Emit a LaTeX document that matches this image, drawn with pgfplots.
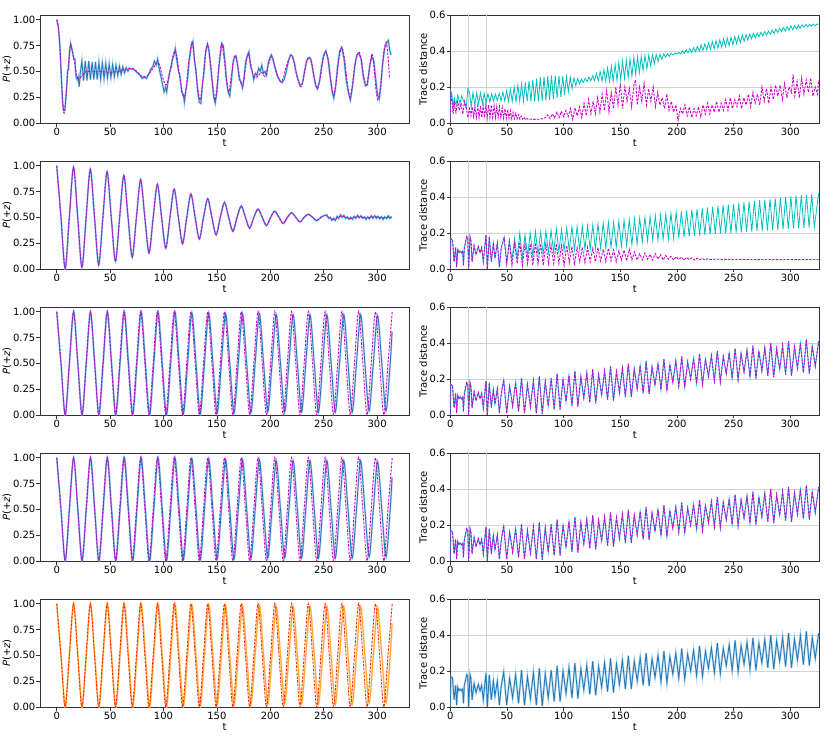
\documentclass[border=0pt]{standalone}
\usepackage{fontspec}
\setmainfont{DejaVu Sans}
\usepackage{pgfplots}
\usepackage{pgfplotstable}
\pgfplotsset{compat=1.18}
\definecolor{tabblue}{RGB}{31,119,180}
\definecolor{lblue}{RGB}{150,195,230}
\definecolor{mag}{RGB}{210,0,210}
\definecolor{cya}{RGB}{0,191,191}
\definecolor{oran}{RGB}{255,165,40}
\definecolor{loran}{RGB}{255,212,150}
\definecolor{redd}{RGB}{255,40,0}

\pgfplotsset{
 base/.style={scale only axis, width=369bp, height=108bp, anchor=north west,
   axis line style={black!80, line width=0.7bp},
   tick align=outside, major tick length=3.5bp, tick style={black!80, line width=0.7bp},
   tick pos=left,
   xtick={0,50,100,150,200,250,300},
   tick label style={font=\fontsize{10bp}{12bp}\selectfont, inner sep=1bp},
   label style={font=\fontsize{10bp}{12bp}\selectfont},
   /pgf/number format/assume math mode=true,
   xlabel={t},
   xlabel style={at={(axis description cs:0.5,-0.155)}, anchor=north, inner sep=0pt},
   no markers},
 L/.style={base, xmin=-15.7, xmax=329.9, ymin=0, ymax=1.045,
   ytick={0,0.25,0.5,0.75,1},
   yticklabel style={/pgf/number format/fixed, /pgf/number format/fixed zerofill, /pgf/number format/precision=2},
   ylabel={\textit{P}(+\textit{z})},
   ylabel style={at={(axis description cs:-0.0894,0.5)}, anchor=center, inner sep=0pt}},
 R/.style={base, xmin=0, xmax=325.6, ymin=0, ymax=0.6,
   ytick={0,0.2,0.4,0.6},
   yticklabel style={/pgf/number format/fixed, /pgf/number format/fixed zerofill, /pgf/number format/precision=1},
   ymajorgrids, grid style={gray!35, line width=0.5bp},
   extra x ticks={16,32}, extra x tick labels={}, extra x tick style={grid=major, major tick length=0bp},
   ylabel={Trace distance},
   ylabel style={at={(axis description cs:-0.0735,0.5)}, anchor=center, inner sep=0pt}},
 sim/.style={tabblue, line width=0.8bp},
 simh/.style={lblue, line width=2bp, opacity=0.7},
 ref/.style={mag, line width=0.9bp, dash pattern=on 2.4bp off 1.3bp},
}

% row 1 left, simulated curve
\pgfplotstableread[row sep=\\]{t y\\
0 1.0\\1.5 0.93\\3 0.75\\4.5 0.4\\5.5 0.2\\6.5 0.12\\7.5 0.12\\9 0.3\\10 0.5\\11 0.52\\12 0.68\\13 0.77\\14.5 0.7\\16 0.62\\17 0.62\\18 0.45\\19 0.42\\20 0.45\\21 0.35\\22 0.48\\23.5 0.60\\25.1 0.41\\26.7 0.60\\28.3 0.41\\29.9 0.60\\31.5 0.42\\33.1 0.59\\34.7 0.42\\36.3 0.59\\37.9 0.42\\39.5 0.585\\41.1 0.425\\42.7 0.58\\44.3 0.43\\45.9 0.575\\47.5 0.435\\49.1 0.57\\50.7 0.44\\52.3 0.565\\53.9 0.45\\55.5 0.56\\57.1 0.46\\58.7 0.55\\60.3 0.47\\61.9 0.545\\63.5 0.485\\65.1 0.535\\66.7 0.5\\68.3 0.53\\70 0.52\\72 0.52\\75 0.49\\78 0.46\\80 0.43\\82 0.45\\84 0.43\\86 0.47\\88 0.52\\90 0.55\\91.5 0.6\\93 0.56\\94.5 0.62\\96 0.52\\97.5 0.45\\99 0.38\\100.5 0.3\\102 0.35\\103 0.3\\104.5 0.42\\106 0.5\\107.5 0.55\\108.5 0.62\\110 0.66\\111 0.72\\112.5 0.6\\114 0.5\\115.5 0.45\\117 0.3\\118.5 0.28\\119.5 0.2\\121 0.32\\122.5 0.42\\124 0.6\\126 0.74\\127.5 0.79\\129 0.6\\130.5 0.5\\132 0.3\\133.5 0.2\\135 0.19\\136.5 0.38\\138 0.5\\139.5 0.7\\141 0.76\\142.5 0.7\\144 0.55\\145.5 0.4\\147 0.25\\148.5 0.19\\150 0.3\\151.5 0.5\\153 0.65\\154.5 0.77\\156 0.75\\157.5 0.6\\159 0.42\\160.5 0.3\\162 0.26\\163.5 0.4\\165 0.58\\166.5 0.64\\168 0.65\\169.5 0.55\\171 0.42\\172.5 0.4\\174 0.34\\175.5 0.45\\177 0.6\\178.5 0.65\\180 0.69\\181.5 0.55\\183 0.5\\184.5 0.42\\186 0.48\\187.5 0.46\\189 0.53\\190.5 0.5\\192 0.56\\193.5 0.48\\195 0.5\\196.5 0.46\\198 0.58\\199.5 0.63\\201 0.66\\202.5 0.62\\204 0.55\\205.5 0.5\\207 0.45\\209 0.41\\211 0.39\\213 0.42\\215 0.5\\217 0.6\\219 0.66\\221 0.64\\222.5 0.58\\224 0.5\\226 0.42\\228 0.36\\230 0.38\\232 0.5\\234 0.6\\236 0.63\\238 0.62\\240 0.5\\242 0.38\\244 0.33\\246 0.4\\248 0.55\\250 0.66\\252 0.7\\254 0.62\\256 0.45\\258 0.3\\259.5 0.24\\261 0.33\\263 0.55\\265 0.7\\267 0.73\\269 0.62\\271 0.42\\273 0.3\\275 0.22\\277 0.35\\279 0.55\\281 0.66\\283 0.67\\285 0.62\\287 0.45\\289 0.36\\291 0.37\\293 0.55\\295 0.64\\297 0.6\\299 0.4\\300.5 0.27\\302 0.23\\303.5 0.35\\305 0.55\\307 0.72\\309 0.78\\310.5 0.8\\312 0.7\\313 0.66\\
}\tabOneS

% row 2 left, simulated curve
\pgfplotstableread[row sep=\\]{t y\\
0 1.0\\3.93 .5\\7.85 .003\\11.78 .5\\15.71 .985\\19.63 .5\\23.56 .015\\27.49 .5\\31.42 .965\\35.34 .5\\39.27 .04\\43.20 .5\\47.12 .94\\51.05 .5\\54.98 .075\\58.90 .5\\62.83 .905\\66.76 .5\\70.69 .115\\74.61 .5\\78.54 .865\\82.47 .5\\86.39 .155\\90.32 .5\\94.25 .82\\98.17 .5\\102.10 .20\\106.03 .5\\109.96 .775\\113.88 .5\\117.81 .245\\121.74 .5\\125.66 .725\\129.59 .5\\133.52 .29\\137.44 .5\\141.37 .68\\145.30 .5\\149.23 .33\\153.15 .5\\157.08 .645\\161.01 .5\\164.93 .365\\168.86 .5\\172.79 .61\\176.71 .5\\180.64 .395\\184.57 .5\\188.50 .58\\192.42 .5\\196.35 .42\\200.28 .5\\204.20 .56\\208.13 .5\\212.06 .44\\215.98 .5\\219.91 .545\\223.84 .5\\227.77 .455\\231.69 .5\\235.62 .53\\239.55 .5\\243.47 .468\\247.40 .5\\251.33 .52\\
252.9 .525\\254.5 .49\\256.1 .50\\257.7 .47\\259.3 .49\\260.9 .47\\262.5 .51\\264.1 .49\\265.7 .525\\267.3 .50\\268.9 .52\\270.5 .49\\272.1 .505\\273.7 .48\\275.3 .50\\276.9 .48\\278.5 .51\\280.1 .49\\281.7 .52\\283.3 .495\\284.9 .515\\286.5 .49\\288.1 .505\\289.7 .48\\291.3 .505\\292.9 .485\\294.5 .515\\296.1 .49\\297.7 .515\\299.3 .49\\300.9 .51\\302.5 .485\\304.1 .505\\305.7 .48\\307.3 .505\\308.9 .49\\310.5 .515\\312.1 .49\\313.7 .50\\
}\tabTwoS

% rows 3-5 left: reference and simulated
\pgfplotstableread[row sep=\\]{t ref ts sim\\
0 1 0 1\\3.93 .5 3.96 .5\\7.85 0 7.90 0\\11.78 .5 11.86 .5\\15.71 1 15.81 1\\19.63 .5 19.76 .5\\23.56 0 23.72 0\\27.49 .5 27.67 .5\\31.42 1 31.63 1\\35.34 .5 35.58 .5\\39.27 0 39.53 0\\43.20 .5 43.49 .5\\47.12 1 47.43 1\\51.05 .5 51.39 .5\\54.98 0 55.35 0\\58.90 .5 59.29 .5\\62.83 1 63.25 1\\66.76 .5 67.21 .5\\70.69 0 71.16 0\\74.61 .5 75.11 .5\\78.54 1 79.06 1\\82.47 .5 83.02 .5\\86.39 0 86.97 0\\90.32 .5 90.92 .5\\94.25 1 94.88 1\\98.17 .5 98.82 .5\\102.10 0 102.78 0\\106.03 .5 106.74 .5\\109.96 1 110.69 1\\113.88 .5 114.64 .5\\117.81 0 118.60 .01\\121.74 .5 122.55 .5\\125.66 1 126.50 .99\\129.59 .5 130.45 .5\\133.52 0 134.41 .01\\137.44 .5 138.36 .5\\141.37 1 142.31 .99\\145.30 .5 146.27 .5\\149.23 0 150.22 .02\\153.15 .5 154.17 .5\\157.08 1 158.13 .98\\161.01 .5 162.08 .5\\164.93 0 166.03 .02\\168.86 .5 169.99 .5\\172.79 1 173.94 .98\\176.71 .5 177.89 .5\\180.64 0 181.84 .02\\184.57 .5 185.80 .5\\188.50 1 189.76 .98\\192.42 .5 193.70 .5\\196.35 0 197.66 .03\\200.28 .5 201.62 .5\\204.20 1 205.56 .97\\208.13 .5 209.52 .5\\212.06 0 213.47 .03\\215.98 .5 217.42 .5\\219.91 1 221.38 .97\\223.84 .5 225.33 .5\\227.77 0 229.29 .03\\231.69 .5 233.23 .5\\235.62 1 237.19 .97\\239.55 .5 241.15 .5\\243.47 0 245.09 .03\\247.40 .5 249.05 .5\\251.33 1 253.01 .97\\255.25 .5 256.95 .5\\259.18 0 260.91 .03\\263.11 .5 264.86 .5\\267.04 1 268.82 .97\\270.96 .5 272.77 .5\\274.89 0 276.72 .03\\278.82 .5 280.68 .5\\282.74 1 284.62 .97\\286.67 .5 288.58 .5\\290.60 0 292.54 .04\\294.52 .5 296.48 .5\\298.45 1 300.44 .96\\302.38 .5 304.40 .5\\306.31 0 308.35 .04\\310.23 .5 312.30 .5\\314.16 1 314.00 .81\\
}\tabA

% rows 3-5 right: trace distance
\pgfplotstableread[row sep=\\]{t d\\
0 0\\0.4 0.17\\2 0.16\\3.3 0.04\\4.7 0.12\\5.6 0.01\\6.5 0.11\\7.5 0.09\\8.6 0.10\\9.8 0.09\\10.9 0.10\\11.6 0.02\\12.4 0.12\\14.5 0.18\\15.4 0.17\\16.2 0.0\\17.4 0.18\\18.2 0.16\\19.2 0.04\\21 0.13\\22.7 0.08\\24.7 0.125\\26.2 0.09\\27.7 0.12\\29.1 0.04\\31.5 0.19\\32.7 0.0\\34.4 0.18\\36.2 0.04\\38 0.145\\39.4 0.06\\41.5 0.145\\43.3 0.01\\45 0.12\\
47.12 0.195\\49.74 0.01\\52.36 0.16\\54.98 0.05\\57.60 0.18\\60.22 0.02\\62.83 0.205\\65.45 0.01\\68.07 0.17\\70.69 0.045\\73.30 0.19\\75.92 0.01\\78.54 0.215\\81.16 0.005\\83.78 0.185\\86.39 0.05\\89.01 0.205\\91.63 0.03\\94.25 0.23\\96.87 0.03\\99.48 0.20\\102.10 0.075\\104.72 0.22\\107.34 0.05\\109.96 0.245\\112.57 0.047\\115.19 0.213\\117.81 0.095\\120.43 0.232\\123.05 0.07\\125.66 0.255\\128.28 0.065\\130.90 0.225\\133.52 0.11\\136.14 0.245\\138.75 0.085\\141.37 0.27\\143.99 0.08\\146.61 0.24\\149.23 0.125\\151.84 0.26\\154.46 0.10\\157.08 0.285\\159.70 0.10\\162.32 0.255\\164.93 0.145\\167.55 0.275\\170.17 0.12\\172.79 0.30\\175.41 0.117\\178.02 0.268\\180.64 0.165\\183.26 0.287\\185.88 0.14\\188.50 0.31\\191.11 0.135\\193.73 0.28\\196.35 0.182\\198.97 0.30\\201.59 0.16\\204.20 0.325\\206.82 0.155\\209.44 0.295\\212.06 0.20\\214.68 0.315\\217.29 0.175\\219.91 0.34\\222.53 0.17\\225.15 0.31\\227.77 0.215\\230.38 0.33\\233.00 0.19\\235.62 0.355\\238.24 0.185\\240.86 0.325\\243.47 0.23\\246.09 0.345\\248.71 0.203\\251.33 0.37\\253.95 0.195\\256.56 0.34\\259.18 0.238\\261.80 0.36\\264.42 0.21\\267.04 0.385\\269.65 0.203\\272.27 0.355\\274.89 0.245\\277.51 0.375\\280.13 0.218\\282.74 0.40\\285.36 0.21\\287.98 0.368\\290.60 0.253\\293.22 0.387\\295.83 0.225\\298.45 0.41\\301.07 0.218\\303.69 0.378\\306.31 0.26\\308.92 0.397\\311.54 0.235\\314.16 0.42\\316.78 0.23\\319.40 0.385\\322.02 0.27\\325 0.41\\
}\tabB

\begin{document}
\begin{tikzpicture}
\path[use as bounding box] (0,0) rectangle (830bp,-742bp);

% ================= ROW 1 =================
\begin{axis}[L, at={(40bp,-15bp)}]
\addplot[simh] table[x=t,y=y]{\tabOneS};
\addplot[sim] table[x=t,y=y]{\tabOneS};
\addplot[ref, smooth] coordinates {(0,1.0)(1.5,0.93)(3,0.7)(4.5,0.4)(5.5,0.2)(6.5,0.1)(7.5,0.12)(9,0.3)(10.5,0.52)(12,0.7)(13,0.76)(14.5,0.7)(16.4,0.6)(18.6,0.46)(21,0.43)(23,0.45)(26,0.49)(30,0.5)(40,0.5)(50,0.49)(58,0.5)(64,0.52)(70.7,0.53)(75,0.5)(81.5,0.44)(86,0.47)(90.8,0.54)(94,0.58)(96,0.57)(99,0.45)(101.7,0.37)(104,0.4)(107,0.56)(110.3,0.70)(112.5,0.65)(115.5,0.42)(118.7,0.25)(121,0.33)(123.5,0.58)(126.5,0.78)(129,0.62)(131.5,0.38)(134.2,0.22)(136.5,0.38)(138.5,0.6)(141.3,0.77)(143.5,0.63)(146,0.38)(148.2,0.22)(150.5,0.4)(152.5,0.62)(154.4,0.77)(157,0.6)(159,0.4)(161.2,0.30)(163.5,0.45)(165.5,0.6)(167.4,0.65)(170,0.52)(172,0.4)(174.5,0.365)(177,0.55)(179.1,0.67)(181.5,0.58)(183.5,0.48)(186,0.44)(189,0.46)(192,0.49)(195,0.45)(198,0.55)(200.8,0.64)(203.5,0.58)(206,0.47)(209.5,0.40)(212,0.43)(215,0.55)(219.4,0.655)(222,0.6)(225,0.45)(228.7,0.35)(231.5,0.45)(234,0.6)(236.5,0.64)(239,0.57)(241.5,0.42)(244.2,0.33)(247,0.45)(249.5,0.62)(251.9,0.69)(254.5,0.6)(256.8,0.4)(259.1,0.27)(261.5,0.38)(264,0.6)(266.9,0.735)(269.5,0.62)(272,0.4)(274.6,0.25)(277,0.38)(280,0.6)(283,0.69)(285.5,0.6)(287.5,0.45)(290,0.365)(292.5,0.5)(295.3,0.67)(297.5,0.5)(299,0.32)(300.6,0.226)(302.5,0.3)(304.5,0.5)(306.5,0.7)(308.6,0.78)(310.2,0.65)(311.7,0.43)};
\end{axis}

\begin{axis}[R, at={(450.3bp,-15bp)}]
\addplot[cya, line width=0.8bp] coordinates {(0,0)(0.3,0.18)(1.5,0.16)(2.5,0.08)(3.5,0.14)(5,0.10)(6.5,0.155)(8.5,0.11)(10,0.15)(12,0.12)(14,0.08)(15.5,0.19)(17,0.17)(18.5,0.09)(20.0,0.17)(21.65,0.10)(23.3,0.168)(24.95,0.105)(26.6,0.167)(28.25,0.108)(29.9,0.165)(31.55,0.112)(33.2,0.163)(34.85,0.117)(36.5,0.162)(38.15,0.122)(39.8,0.16)(41.45,0.125)(43.1,0.166)(44.75,0.123)(46.4,0.173)(48.05,0.121)(49.7,0.18)(51.35,0.12)(53.0,0.19)(54.65,0.12)(56.3,0.199)(57.95,0.12)(59.6,0.21)(61.25,0.12)(62.9,0.217)(64.55,0.12)(66.2,0.225)(67.85,0.12)(69.5,0.234)(71.15,0.12)(72.8,0.24)(74.45,0.12)(76.1,0.247)(77.75,0.12)(79.4,0.254)(81.05,0.121)(82.7,0.257)(84.35,0.124)(86.0,0.261)(87.65,0.128)(89.3,0.264)(90.95,0.132)(92.6,0.265)(94.25,0.138)(95.9,0.262)(97.55,0.145)(99.2,0.26)(100.85,0.155)(102.5,0.258)(104.15,0.175)(105.8,0.255)(107.45,0.19)(109.1,0.251)(110.75,0.207)(112.4,0.248)(114.05,0.217)(115.7,0.245)(117.35,0.225)(119.0,0.248)(120.65,0.23)(122.3,0.255)(123.95,0.234)(125.6,0.262)(127.25,0.235)(128.9,0.276)(130.55,0.235)(132.2,0.286)(133.85,0.234)(135.5,0.296)(137.15,0.232)(138.8,0.306)(140.45,0.23)(142.1,0.316)(143.75,0.232)(145.4,0.326)(147.05,0.237)(148.7,0.336)(150.35,0.24)(152.0,0.344)(153.65,0.247)(155.3,0.35)(156.95,0.254)(158.6,0.357)(160.25,0.26)(161.9,0.363)(163.55,0.27)(165.2,0.368)(166.85,0.28)(168.5,0.373)(170.15,0.29)(171.8,0.376)(173.45,0.30)(175.1,0.378)(176.75,0.317)(178.4,0.38)(180.05,0.33)(181.7,0.381)(183.35,0.342)(185.0,0.383)(186.65,0.353)(188.3,0.384)(189.95,0.365)(191.6,0.385)(193.25,0.37)(194.9,0.387)(196.55,0.377)(198.2,0.389)(199.85,0.382)(201.5,0.393)(203.15,0.384)(204.8,0.40)(206.45,0.387)(208.1,0.406)(209.75,0.39)(211.4,0.413)(213.05,0.393)(214.7,0.419)(216.35,0.396)(218.0,0.426)(219.65,0.40)(221.3,0.433)(222.95,0.403)(224.6,0.44)(226.25,0.406)(227.9,0.446)(229.55,0.41)(231.2,0.452)(232.85,0.413)(234.5,0.457)(236.15,0.416)(237.8,0.462)(239.45,0.42)(241.1,0.467)(242.75,0.424)(244.4,0.472)(246.05,0.429)(247.7,0.477)(249.35,0.434)(251.0,0.481)(252.65,0.44)(254.3,0.484)(255.95,0.447)(257.6,0.488)(259.25,0.454)(260.9,0.491)(262.55,0.46)(264.2,0.494)(265.85,0.467)(267.5,0.498)(269.15,0.473)(270.8,0.501)(272.45,0.48)(274.1,0.504)(275.75,0.484)(277.4,0.507)(279.05,0.489)(280.7,0.511)(282.35,0.493)(284.0,0.516)(285.65,0.498)(287.3,0.521)(288.95,0.503)(290.6,0.526)(292.25,0.508)(293.9,0.531)(295.55,0.511)(297.2,0.536)(298.85,0.514)(300.5,0.54)(302.15,0.518)(303.8,0.542)(305.45,0.522)(307.1,0.544)(308.75,0.527)(310.4,0.545)(312.05,0.532)(313.7,0.547)(315.35,0.535)(317.0,0.548)(318.65,0.538)(320.3,0.55)(321.95,0.54)(323.6,0.55)(325,0.548)};
\addplot[ref] coordinates {(0,0)(0.3,0.17)(1.5,0.12)(2.5,0.05)(3.5,0.11)(5,0.06)(6.5,0.12)(8,0.07)(9.5,0.11)(11,0.05)(12.5,0.12)(14,0.09)(15.5,0.03)(17,0.08)(18.2,0.04)(19.4,0.09)(20.6,0.035)(21.8,0.09)(23,0.03)(24.2,0.095)(25.4,0.03)(26.6,0.095)(27.8,0.03)(29,0.10)(30.2,0.03)(31.4,0.10)(32.6,0.03)(33.8,0.10)(35,0.03)(36.2,0.10)(37.4,0.03)(38.6,0.095)(39.8,0.03)(41,0.09)(42.2,0.03)(43.4,0.09)(44.6,0.028)(45.8,0.085)(47,0.027)(48.2,0.08)(49.4,0.026)(50.6,0.075)(51.8,0.025)(53,0.068)(54.2,0.024)(55.4,0.06)(56.6,0.023)(57.8,0.052)(59,0.022)(60.2,0.045)(61.4,0.022)(62.6,0.038)(63.8,0.021)(65,0.032)(66.2,0.02)(67.4,0.027)(68.6,0.02)(70,0.022)(73,0.02)(76,0.02)(79,0.022)(82,0.025)(84,0.03)(86,0.045)(88,0.025)(90,0.05)(92,0.03)(94,0.06)(96,0.03)(98,0.065)(100,0.035)(102,0.07)(104,0.035)(106,0.08)(108,0.02)(110,0.085)(112,0.04)(114,0.09)(116,0.03)(118,0.11)(120,0.04)(122,0.13)(124,0.05)(126,0.12)(128,0.05)(130,0.14)(132,0.06)(134,0.16)(136,0.07)(138,0.18)(140,0.06)(142,0.17)(144,0.08)(146,0.2)(148,0.1)(150,0.22)(152,0.08)(154,0.2)(156,0.12)(158,0.19)(160,0.09)(162,0.21)(163.5,0.24)(165,0.1)(167,0.2)(169,0.12)(171,0.22)(173,0.1)(175,0.19)(177,0.12)(179,0.2)(181,0.09)(183,0.17)(185,0.1)(187,0.14)(189,0.08)(191,0.16)(193,0.07)(195,0.12)(197,0.06)(199,0.1)(201,0.015)(203,0.08)(205,0.05)(207,0.1)(209,0.04)(211,0.09)(213,0.03)(215,0.08)(217,0.04)(219,0.09)(221,0.035)(223,0.1)(225,0.05)(227,0.11)(229,0.05)(231,0.1)(233,0.06)(235,0.12)(237,0.06)(239,0.11)(241,0.07)(243,0.13)(245,0.07)(247,0.14)(249,0.08)(251,0.13)(253,0.09)(255,0.15)(257,0.08)(259,0.14)(261,0.1)(263,0.16)(265,0.09)(267,0.17)(269,0.11)(271,0.16)(273,0.1)(275,0.2)(277,0.12)(279,0.19)(281,0.11)(283,0.2)(285,0.13)(287,0.21)(289,0.15)(291,0.21)(293,0.13)(295,0.22)(297,0.14)(299,0.2)(301,0.17)(302.5,0.27)(304,0.15)(306,0.23)(308,0.14)(310,0.25)(312,0.16)(314,0.24)(316,0.17)(318,0.25)(320,0.15)(322,0.2)(324,0.16)(325,0.24)};
\end{axis}

% ================= ROW 2 =================
\begin{axis}[L, at={(40bp,-161bp)}]
\addplot[simh, smooth] table[x=t,y=y]{\tabTwoS};
\addplot[sim, smooth] table[x=t,y=y]{\tabTwoS};
\addplot[ref, smooth] coordinates {(0,1.0)(3.93,.5)(7.85,.003)(11.78,.5)(15.71,.985)(19.63,.5)(23.56,.015)(27.49,.5)(31.42,.965)(35.34,.5)(39.27,.04)(43.20,.5)(47.12,.94)(51.05,.5)(54.98,.075)(58.90,.5)(62.83,.905)(66.76,.5)(70.69,.115)(74.61,.5)(78.54,.865)(82.47,.5)(86.39,.155)(90.32,.5)(94.25,.82)(98.17,.5)(102.10,.20)(106.03,.5)(109.96,.775)(113.88,.5)(117.81,.245)(121.74,.5)(125.66,.725)(129.59,.5)(133.52,.29)(137.44,.5)(141.37,.68)(145.30,.5)(149.23,.33)(153.15,.5)(157.08,.645)(161.01,.5)(164.93,.365)(168.86,.5)(172.79,.61)(176.71,.5)(180.64,.395)(184.57,.5)(188.50,.58)(192.42,.5)(196.35,.42)(200.28,.5)(204.20,.56)(208.13,.5)(212.06,.44)(215.98,.5)(219.91,.545)(223.84,.5)(227.77,.455)(231.69,.5)(235.62,.53)(239.55,.5)(243.47,.468)(247.40,.5)(251.33,.52)(255.25,.5)(259.18,.478)(263.11,.5)(267.04,.513)(270.96,.5)(274.89,.486)(278.82,.5)(282.74,.508)(286.67,.5)(290.60,.49)(294.52,.5)(298.45,.505)(302.38,.5)(306.31,.495)(310.23,.5)(314.16,.503)};
\end{axis}

\begin{axis}[R, at={(450.3bp,-161bp)}]
\addplot[cya, line width=0.8bp, restrict x to domain=0:45.5] table[x=t,y=d]{\tabB};
\addplot[cya, line width=0.8bp] coordinates {(45,0.12)(47.5,0.18)(49.8,0.03)(52.1,0.16)(54.4,0.05)(56.7,0.17)(59.0,0.06)(61.3,0.20)(63.6,0.06)(65.9,0.19)(68.2,0.07)(70.5,0.20)(72.8,0.07)(75.1,0.21)(77.4,0.08)(79.7,0.205)(82.0,0.08)(84.3,0.21)(86.6,0.09)(88.9,0.215)(91.2,0.09)(93.5,0.225)(95.8,0.095)(98.1,0.22)(100.4,0.10)(102.7,0.23)(105.0,0.10)(107.3,0.235)(109.6,0.105)(111.9,0.235)(114.2,0.105)(116.5,0.24)(118.8,0.11)(121.1,0.24)(123.4,0.11)(125.7,0.245)(128.0,0.11)(130.3,0.25)(132.6,0.115)(134.9,0.255)(137.2,0.115)(139.5,0.26)(141.8,0.12)(144.1,0.26)(146.4,0.12)(148.7,0.265)(151.0,0.125)(153.3,0.27)(155.6,0.13)(157.9,0.275)(160.2,0.135)(162.5,0.28)(164.8,0.14)(167.1,0.283)(169.4,0.15)(171.7,0.287)(174.0,0.155)(176.3,0.29)(178.6,0.16)(180.9,0.296)(183.2,0.162)(185.5,0.30)(187.8,0.165)(190.1,0.305)(192.4,0.167)(194.7,0.31)(197.0,0.17)(199.3,0.315)(201.6,0.172)(203.9,0.32)(206.2,0.176)(208.5,0.325)(210.8,0.18)(213.1,0.33)(215.4,0.183)(217.7,0.333)(220.0,0.186)(222.3,0.337)(224.6,0.19)(226.9,0.342)(229.2,0.192)(231.5,0.346)(233.8,0.195)(236.1,0.35)(238.4,0.197)(240.7,0.354)(243.0,0.199)(245.3,0.358)(247.6,0.20)(249.9,0.362)(252.2,0.202)(254.5,0.366)(256.8,0.204)(259.1,0.37)(261.4,0.206)(263.7,0.374)(266.0,0.208)(268.3,0.378)(270.6,0.21)(272.9,0.382)(275.2,0.212)(277.5,0.385)(279.8,0.214)(282.1,0.389)(284.4,0.216)(286.7,0.392)(289.0,0.218)(291.3,0.396)(293.6,0.22)(295.9,0.40)(298.2,0.222)(300.5,0.403)(302.8,0.224)(305.1,0.407)(307.4,0.226)(309.7,0.41)(312.0,0.228)(314.3,0.413)(316.6,0.23)(318.9,0.416)(321.2,0.232)(325,0.42)};
\addplot[ref, restrict x to domain=0:45.5] table[x=t,y=d]{\tabB};
\addplot[ref] coordinates {(45,0.12)(47.5,0.17)(49.8,0.03)(52.1,0.15)(54.4,0.02)(56.7,0.14)(59.0,0.03)(61.3,0.15)(63.6,0.02)(65.9,0.14)(68.2,0.03)(70.5,0.14)(72.8,0.02)(75.1,0.145)(77.4,0.03)(79.7,0.14)(82.0,0.02)(84.3,0.14)(86.6,0.03)(88.9,0.135)(91.2,0.03)(93.5,0.14)(95.8,0.03)(98.1,0.13)(100.4,0.02)(102.7,0.13)(105.0,0.035)(107.3,0.125)(109.6,0.03)(111.9,0.12)(114.2,0.04)(116.5,0.12)(118.8,0.035)(121.1,0.12)(123.4,0.04)(125.7,0.115)(128.0,0.04)(130.3,0.12)(132.6,0.045)(134.9,0.11)(137.2,0.04)(139.5,0.115)(141.8,0.045)(144.1,0.105)(146.4,0.04)(148.7,0.10)(151.0,0.05)(153.3,0.105)(155.6,0.045)(157.9,0.11)(160.2,0.05)(162.5,0.095)(164.8,0.05)(167.1,0.085)(169.4,0.05)(171.7,0.09)(174.0,0.055)(176.3,0.08)(178.6,0.05)(180.9,0.085)(183.2,0.055)(185.5,0.08)(187.8,0.05)(190.1,0.075)(192.4,0.055)(194.7,0.07)(197.0,0.05)(199.3,0.068)(201.6,0.053)(203.9,0.066)(206.2,0.05)(208.5,0.064)(210.8,0.052)(213.1,0.062)(215.4,0.05)(217.7,0.06)(220.0,0.052)(222.3,0.058)(224.6,0.051)(226.9,0.057)(229.2,0.052)(235,0.055)(240,0.052)(245,0.054)(250,0.052)(255,0.054)(260,0.052)(265,0.053)(270,0.052)(280,0.053)(290,0.052)(300,0.053)(310,0.052)(325,0.053)};
\end{axis}

% ================= ROW 3 =================
\begin{axis}[L, at={(40bp,-307bp)}]
\addplot[simh, smooth] table[x=ts,y=sim]{\tabA};
\addplot[sim, smooth] table[x=ts,y=sim]{\tabA};
\addplot[ref, smooth] table[x=t,y=ref]{\tabA};
\end{axis}
\begin{axis}[R, at={(450.3bp,-307bp)}]
\addplot[cya, line width=0.9bp] table[x=t,y=d]{\tabB};
\addplot[ref] table[x=t,y=d]{\tabB};
\end{axis}

% ================= ROW 4 =================
\begin{axis}[L, at={(40bp,-453bp)}]
\addplot[simh, smooth] table[x=ts,y=sim]{\tabA};
\addplot[sim, smooth] table[x=ts,y=sim]{\tabA};
\addplot[ref, smooth] table[x=t,y=ref]{\tabA};
\end{axis}
\begin{axis}[R, at={(450.3bp,-453bp)}]
\addplot[cya, line width=0.9bp] table[x=t,y=d]{\tabB};
\addplot[ref] table[x=t,y=d]{\tabB};
\end{axis}

% ================= ROW 5 =================
\begin{axis}[L, at={(40bp,-599bp)}]
\addplot[loran, line width=2bp, opacity=0.8, smooth] table[x=ts,y=sim]{\tabA};
\addplot[oran, line width=0.9bp, smooth] table[x=ts,y=sim]{\tabA};
\addplot[redd, line width=0.9bp, dash pattern=on 2.4bp off 1.3bp, smooth] table[x=t,y=ref]{\tabA};
\end{axis}
\begin{axis}[R, at={(450.3bp,-599bp)}]
\addplot[simh] table[x=t,y=d]{\tabB};
\addplot[sim] table[x=t,y=d]{\tabB};
\end{axis}

\end{tikzpicture}
\end{document}
